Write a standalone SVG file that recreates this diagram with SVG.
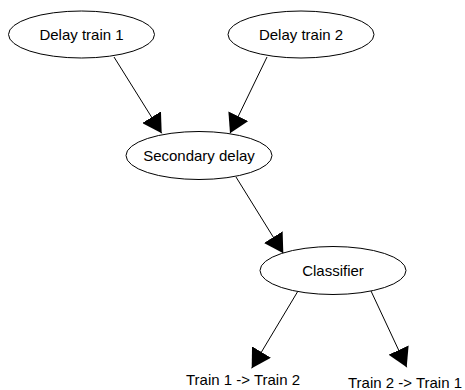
<svg xmlns="http://www.w3.org/2000/svg" width="465" height="390" viewBox="0 0 465 390">
  <style>
    .node ellipse { fill: #ffffff; stroke: #000000; stroke-width: 1; }
    .lbl { font-family: "Liberation Sans", Arial, sans-serif; font-size: 15px; fill: #000000; text-anchor: middle; }
    .edge { stroke: #000000; stroke-width: 1; fill: none; marker-end: url(#arrow); }
  </style>
  <defs>
    <marker id="arrow" markerUnits="userSpaceOnUse" markerWidth="20" markerHeight="22" refX="19" refY="11" orient="auto" viewBox="0 0 20 22">
      <path d="M0,0 L19,11 L0,22 Z" fill="#000000"/>
    </marker>
  </defs>
  <rect width="465" height="390" fill="#ffffff"/>
  <g id="connectors">
    <line class="edge" x1="114" y1="57" x2="161.7" y2="133.3"/>
    <line class="edge" x1="267" y1="57" x2="230" y2="133.3"/>
    <line class="edge" x1="236" y1="177" x2="283.3" y2="253.3"/>
    <line class="edge" x1="298" y1="291" x2="251.7" y2="368.3"/>
    <line class="edge" x1="371" y1="291" x2="406.7" y2="367.3"/>
  </g>
  <g id="delay1" class="node">
    <ellipse cx="81.5" cy="34.5" rx="73" ry="23.5"/>
    <text class="lbl" x="81.5" y="39.5">Delay train 1</text>
  </g>
  <g id="delay2" class="node">
    <ellipse cx="301" cy="34.5" rx="73" ry="23.5"/>
    <text class="lbl" x="301" y="39.5">Delay train 2</text>
  </g>
  <g id="secondary" class="node">
    <ellipse cx="199" cy="155.5" rx="73" ry="24"/>
    <text class="lbl" x="199" y="160.5">Secondary delay</text>
  </g>
  <g id="classifier" class="node">
    <ellipse cx="333" cy="270.5" rx="73" ry="24"/>
    <text class="lbl" x="333" y="275.5">Classifier</text>
  </g>
  <g id="out1" class="node">
    <text class="lbl" x="243" y="385">Train 1 -&gt; Train 2</text>
  </g>
  <g id="out2" class="node">
    <text class="lbl" x="405" y="388">Train 2 -&gt; Train 1</text>
  </g>
</svg>
